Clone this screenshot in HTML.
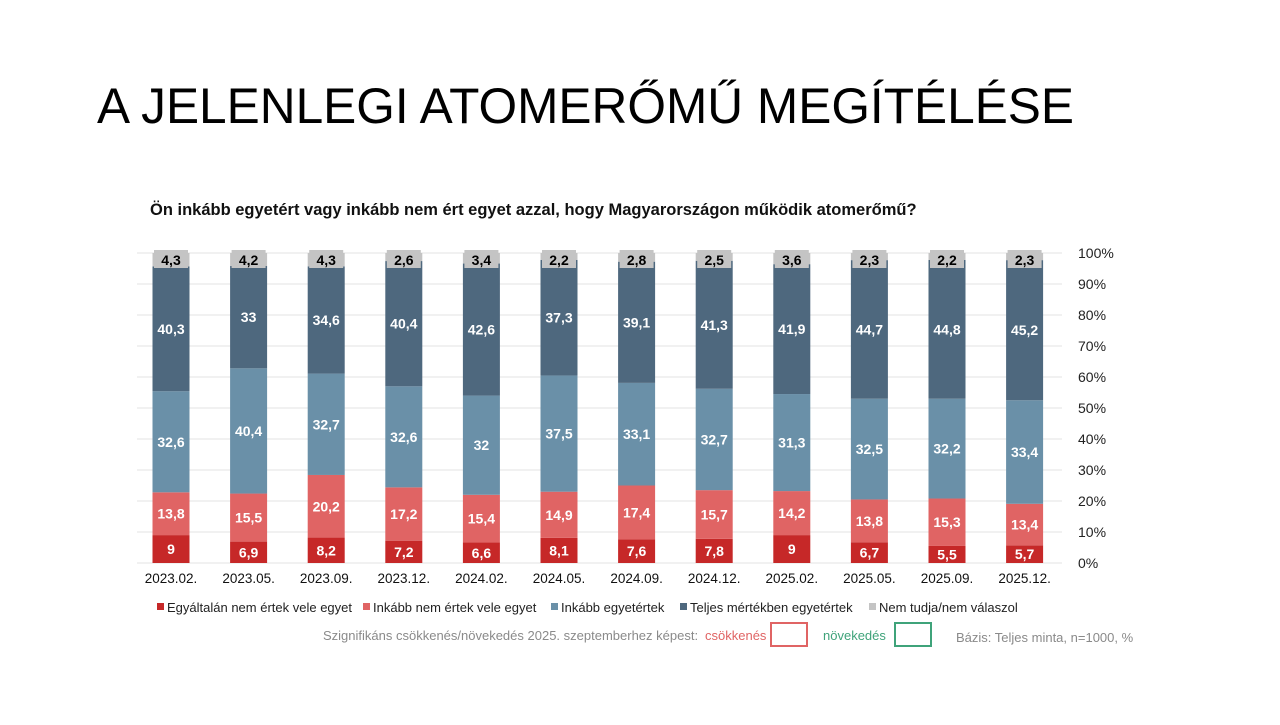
<!DOCTYPE html>
<html><head><meta charset="utf-8"><style>
body{margin:0;width:1280px;height:720px;background:#fff;overflow:hidden;font-family:"Liberation Sans",sans-serif}
</style></head><body>
<svg id="s" width="1280" height="720" xmlns="http://www.w3.org/2000/svg" font-family="Liberation Sans, sans-serif">
<text x="97" y="123" font-size="50" fill="#000" textLength="977" lengthAdjust="spacingAndGlyphs">A JELENLEGI ATOMERŐMŰ MEGÍTÉLÉSE</text>
<text x="150" y="215" font-size="16.5" font-weight="bold" fill="#111">Ön inkább egyetért vagy inkább nem ért egyet azzal, hogy Magyarországon működik atomerőmű?</text>
<g id="g"></g>
</svg>
<script>
const d=[["2023.02.",9,13.8,32.6,40.3,4.3],["2023.05.",6.9,15.5,40.4,33,4.2],["2023.09.",8.2,20.2,32.7,34.6,4.3],["2023.12.",7.2,17.2,32.6,40.4,2.6],["2024.02.",6.6,15.4,32,42.6,3.4],["2024.05.",8.1,14.9,37.5,37.3,2.2],["2024.09.",7.6,17.4,33.1,39.1,2.8],["2024.12.",7.8,15.7,32.7,41.3,2.5],["2025.02.",9,14.2,31.3,41.9,3.6],["2025.05.",6.7,13.8,32.5,44.7,2.3],["2025.09.",5.5,15.3,32.2,44.8,2.2],["2025.12.",5.7,13.4,33.4,45.2,2.3]];
const col=["#C62828","#E06464","#6A90A8","#4E687E","#C4C4C4"];
let h="";const y0=563,k=3.1;
for(let i=0;i<=10;i++){const y=y0-i*31;h+=`<line x1="137" x2="1062" y1="${y}" y2="${y}" stroke="#e3e3e3" stroke-width="1"/><text x="1078" y="${y+5}" font-size="14" fill="#222">${i*10}%</text>`;}
d.forEach((r,i)=>{const cx=171+i*77.6;let c=0;
for(let j=1;j<=5;j++){const v=r[j];const yt=y0-(c+v)*k;h+=`<rect x="${cx-18.5}" y="${yt}" width="37" height="${v*k}" fill="${col[j-1]}"/>`;
if(j<5)h+=`<text x="${cx}" y="${yt+v*k/2+5}" font-size="14" font-weight="bold" fill="#fff" text-anchor="middle">${String(v).replace('.',',')}</text>`;
else{h+=`<rect x="${cx-17}" y="${250}" width="34" height="18" fill="#C4C4C4"/><text x="${cx}" y="265" font-size="14" font-weight="bold" fill="#000" text-anchor="middle">${String(v).replace('.',',')}</text>`;}
c+=v;}
h+=`<text x="${cx}" y="583" font-size="13.5" fill="#111" text-anchor="middle">${r[0]}</text>`;});
const L=[["Egyáltalán nem értek vele egyet",157],["Inkább nem értek vele egyet",363],["Inkább egyetértek",551],["Teljes mértékben egyetértek",680],["Nem tudja/nem válaszol",869]];
L.forEach((l,i)=>{h+=`<rect x="${l[1]}" y="603" width="7" height="7" fill="${col[i]}"/><text x="${l[1]+10}" y="612" font-size="13" fill="#222">${l[0]}</text>`;});
h+=`<text x="323" y="640" font-size="13" fill="#8a8a8a">Szignifikáns csökkenés/növekedés 2025. szeptemberhez képest:</text>
<text x="705" y="640" font-size="13" fill="#E06464">csökkenés</text><rect x="771" y="623" width="36" height="23" fill="none" stroke="#E06464" stroke-width="2"/>
<text x="823" y="640" font-size="13" fill="#3FA37A">növekedés</text><rect x="895" y="623" width="36" height="23" fill="none" stroke="#3FA37A" stroke-width="2"/>
<text x="956" y="642" font-size="13" fill="#8a8a8a">Bázis: Teljes minta, n=1000, %</text>`;
document.getElementById("g").innerHTML=h;
</script>
</body></html>
